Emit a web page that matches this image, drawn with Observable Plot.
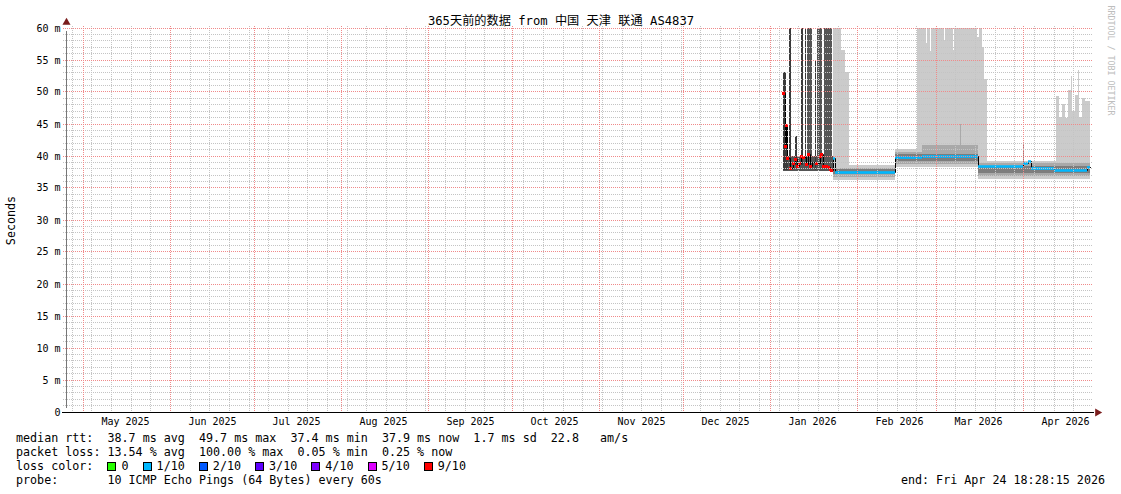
<!DOCTYPE html>
<html><head><meta charset="utf-8">
<script src="https://cdn.jsdelivr.net/npm/d3@7"></script>
<script src="https://cdn.jsdelivr.net/npm/@observablehq/plot@0.6"></script>
<style>
body{margin:0;background:#fff;}
#wrap{position:relative;width:1121px;height:494px;overflow:hidden;background:#fff;font-family:"DejaVu Sans Mono",monospace;}
#chart{position:absolute;left:0;top:0;}
.leg{position:absolute;left:16px;font-size:11.7px;white-space:pre;line-height:14px;color:#000;}
.sw{display:inline-block;width:7px;height:7px;border:1px solid #000;vertical-align:-1px;margin-right:5px;}
</style></head>
<body><div id="wrap"><div id="chart"></div>
<div class="leg" id="l1" style="top:431px"></div>
<div class="leg" id="l2" style="top:445px"></div>
<div class="leg" id="l3" style="top:459px"></div>
<div class="leg" id="l4" style="top:473px"></div>
<div class="leg" id="l5" style="top:473px;left:auto;right:16px"></div>
</div>
<script>
// ---------- texts ----------
const titleText = "365天前的数据 from 中国 天津 联通 AS4837";
const yLabel = "Seconds";
const watermark = "RRDTOOL / TOBI OETIKER";
const T0 = "2025-04-24T18:28:15", T1 = "2026-04-24T18:28:15";
const monthStarts = ["2025-05-01","2025-06-01","2025-07-01","2025-08-01","2025-09-01","2025-10-01","2025-11-01","2025-12-01","2026-01-01","2026-02-01","2026-03-01","2026-04-01"];
const monthLabels = ["May 2025","Jun 2025","Jul 2025","Aug 2025","Sep 2025","Oct 2025","Nov 2025","Dec 2025","Jan 2026","Feb 2026","Mar 2026","Apr 2026"];
const yTicks = [0,5,10,15,20,25,30,35,40,45,50,55,60];

// ---------- legend ----------
const rttStats = ["38.7 ms avg","49.7 ms max","37.4 ms min","37.9 ms now","1.7 ms sd","22.8   am/s"];
const lossStats = ["13.54 % avg","100.00 % max","0.05 % min","0.25 % now"];
const lossLabels = ["0","1/10","2/10","3/10","4/10","5/10","9/10"];
const lossColors = ["#26ff00","#00b8ff","#0059ff","#5e00ff","#7e00ff","#dd00ff","#ff0000"];
const probeText = "10 ICMP Echo Pings (64 Bytes) every 60s";
const endText = "end: Fri Apr 24 18:28:15 2026";

// ---------- smoke (ping spread) [from, to, low ms, high ms] ----------
const smokeOuter = [
  ["2026-01-23T06:00","2026-02-14T08:00",36.2,38.5],
  ["2026-02-14T08:00","2026-03-16T04:00",38.2,41.0],
  ["2026-03-16T04:00","2026-04-24T18:28:15",36.3,39.2]
];
const smokeTall = [
  ["2026-01-23T06:00","2026-01-26T06:00",36.5,60],
  ["2026-01-26T06:00","2026-01-27T18:00",36.5,56.5],
  ["2026-01-27T18:00","2026-01-28T21:00",36.5,53.0],
  ["2026-02-22T06:00","2026-02-25T12:00",38.4,60],
  ["2026-02-25T12:00","2026-02-25T20:00",38.4,57.5],
  ["2026-02-25T20:00","2026-02-27T00:00",38.4,60],
  ["2026-02-27T00:00","2026-02-27T10:00",38.4,56.3],
  ["2026-02-27T10:00","2026-03-04T00:00",38.4,60],
  ["2026-03-04T00:00","2026-03-04T10:00",38.4,58],
  ["2026-03-04T10:00","2026-03-07T00:00",38.4,60],
  ["2026-03-07T00:00","2026-03-07T10:00",38.4,56.5],
  ["2026-03-07T10:00","2026-03-15T20:00",38.4,60],
  ["2026-03-15T20:00","2026-03-16T12:00",38.2,58.5],
  ["2026-03-16T12:00","2026-03-17T12:00",38.2,60],
  ["2026-03-17T12:00","2026-03-18T06:00",38.2,57],
  ["2026-03-18T06:00","2026-03-19T05:00",38.2,52],
  ["2026-04-12T22:00","2026-04-14T00:00",36.5,49.3],
  ["2026-04-14T00:00","2026-04-15T00:00",36.5,46.0],
  ["2026-04-15T00:00","2026-04-16T00:00",36.5,48.0],
  ["2026-04-16T00:00","2026-04-17T00:00",36.5,45.8],
  ["2026-04-17T00:00","2026-04-18T00:00",36.5,50.2],
  ["2026-04-18T00:00","2026-04-18T12:00",36.5,52.4],
  ["2026-04-18T12:00","2026-04-19T12:00",36.5,47.0],
  ["2026-04-19T12:00","2026-04-20T12:00",36.5,49.5],
  ["2026-04-20T12:00","2026-04-21T00:00",36.5,53.4],
  ["2026-04-21T00:00","2026-04-22T00:00",36.5,46.0],
  ["2026-04-22T00:00","2026-04-23T00:00",36.5,49.0],
  ["2026-04-23T00:00","2026-04-24T18:28:15",36.5,48.5]
];
const smokeMid = [
  ["2026-01-23T06:00","2026-02-14T08:00",36.7,38.1],
  ["2026-02-14T08:00","2026-03-16T04:00",38.6,40.6],
  ["2026-02-24T00:00","2026-03-16T04:00",40.0,41.6],
  ["2026-03-09T12:00","2026-03-09T20:00",40.0,45.0],
  ["2026-03-16T04:00","2026-04-24T18:28:15",36.8,38.8]
];
const smokeInner = [
  ["2026-01-23T06:00","2026-02-14T08:00",37.1,37.9],
  ["2026-02-14T08:00","2026-03-16T04:00",39.2,40.3],
  ["2026-03-16T04:00","2026-04-24T18:28:15",37.3,38.4]
];
// high-loss period: darker smoke
const smokeLossDark = [
  ["2026-01-05T13:00","2026-01-06T15:00",37.7,53.0],
  ["2026-01-06T15:00","2026-01-07T04:00",37.8,44.8],
  ["2026-01-07T12:00","2026-01-08T06:00",38.3,60],
  ["2026-01-09T16:00","2026-01-10T09:00",38.5,43.0],
  ["2026-01-10T00:00","2026-01-10T06:00",43.0,60],
  ["2026-01-12T01:00","2026-01-12T18:00",38.5,60],
  ["2026-01-13T05:30","2026-01-13T20:00",38.5,60],
  ["2026-01-16T19:00","2026-01-17T03:30",37.8,54.7]
];
const smokeLossBase = [
  ["2026-01-05T13:00","2026-01-23T06:00",37.6,40.0]
];
const smokeLossMid = [
  ["2026-01-14T04:30","2026-01-15T20:00",37.6,60],
  ["2026-01-17T18:00","2026-01-19T09:30",37.6,60],
  ["2026-01-20T00:00","2026-01-22T20:30",37.6,60]
];
const lossSpike = [["2026-04-01T00:00","2026-04-01T06:00",38.3,42.0]];

// ---------- median rtt [from, ms, loss index (-1 = none)] ----------
const medianSteps = [
  ["2026-01-05T13:00",49.7,6],["2026-01-06T08:00",41.5,6],["2026-01-06T17:00",44.7,6],
  ["2026-01-07T02:00",39.6,6],["2026-01-08T03:00",38.1,6],["2026-01-09T01:00",38.9,6],
  ["2026-01-09T16:00",39.4,6],["2026-01-10T12:00",38.4,6],["2026-01-11T05:00",38.9,6],
  ["2026-01-12T01:00",40.0,6],["2026-01-12T15:00",39.8,6],["2026-01-13T19:00",38.6,6],
  ["2026-01-14T10:00",40.2,6],["2026-01-15T00:00",38.4,6],["2026-01-16T00:00",39.0,-1],
  ["2026-01-17T10:00",38.9,6],["2026-01-18T14:00",40.0,6],["2026-01-19T05:00",40.2,6],
  ["2026-01-19T18:00",38.3,6],["2026-01-20T23:00",38.3,6],["2026-01-21T12:00",38.2,6],
  ["2026-01-22T03:00",37.9,6],["2026-01-22T18:00",37.8,6],
  ["2026-01-23T04:00",39.6,1],["2026-01-24T04:00",37.5,1],["2026-02-01T00:00",37.4,1],
  ["2026-02-06T00:00",37.5,1],["2026-02-14T08:00",39.8,1],["2026-02-24T00:00",39.9,1],
  ["2026-03-05T00:00",40.0,1],["2026-03-12T00:00",39.9,1],["2026-03-16T04:00",38.3,1],
  ["2026-04-01T00:00",38.8,1],["2026-04-03T00:00",39.1,1],["2026-04-03T18:00",38.1,1],
  ["2026-04-12T00:00",37.7,1],["2026-04-24T00:00",38.2,1]
];

// ---------- helpers ----------
const D = s => new Date(s.length <= 10 ? s + "T00:00:00Z" : s + "Z");
const band = (arr, fill) => Plot.rect(arr, {x1: d => D(d[0]), x2: d => D(d[1]), y1: d => d[2], y2: d => d[3], fill});
const segs = medianSteps.map((d, i) => ({x1: D(d[0]), x2: D(i + 1 < medianSteps.length ? medianSteps[i + 1][0] : T1), y: d[1], loss: d[2]}));
const linePts = segs.flatMap(s => [{x: s.x1, y: s.y}, {x: s.x2, y: s.y}]);
const weekly = d3.utcSunday.range(D(T0), D(T1));
const months = monthStarts.map(D);
const yMinor = d3.range(0, 61).filter(v => v % 5 !== 0);
const grey = "#c4c4c4", redGrid = "#f08a8a";

const chart = Plot.plot({
  width: 1121, height: 430,
  marginLeft: 66, marginRight: 31, marginTop: 28, marginBottom: 18,
  x: {type: "utc", domain: [D(T0), D(T1)], range: [65.5, 1089.5], axis: null, round: true},
  y: {domain: [0, 60], range: [411.5, 27.5], round: true},
  style: {fontFamily: "'DejaVu Sans Mono', monospace", fontSize: "10px", background: "#fff", overflow: "visible", color: "#000"},
  marks: [
    band(smokeOuter, "#cbcbcb"),
    band(smokeTall, "#cbcbcb"),
    band(smokeMid, "#a9a9a9"),
    band(smokeInner, "#7d7d7d"),
    band(smokeLossBase, "#555555"),
    band(smokeLossDark, "#3a3a3a"),
    band(smokeLossMid, "#555555"),
    band(lossSpike, "#a07a7a"),
    Plot.line(linePts, {x: "x", y: "y", stroke: "#000", strokeWidth: 1}),
    Plot.ruleY(segs.filter(s => s.loss === 1), {x1: "x1", x2: "x2", y: "y", stroke: lossColors[1], strokeWidth: 2.6}),
    Plot.dot(segs.filter(s => s.loss === 6), {x: "x1", y: "y", symbol: "square", r: 1.7, fill: lossColors[6], stroke: null}),
    // grid (drawn over the data, as rrdtool does)
    Plot.ruleY(yMinor, {stroke: grey, strokeDasharray: "1,1", insetLeft: -3, insetRight: -3}),
    Plot.ruleX(weekly, {stroke: grey, strokeDasharray: "1,1", insetTop: -2}),
    Plot.ruleY(yTicks.filter(v => v > 0), {stroke: redGrid, strokeDasharray: "1,1", insetLeft: -3, insetRight: -3}),
    Plot.ruleX(months, {stroke: redGrid, strokeDasharray: "1,1", insetTop: -2}),
    // axes
    Plot.ruleX([D(T0)], {y1: 0, y2: 60, stroke: "#777", insetTop: -4, insetBottom: -3}),
    Plot.ruleY([0], {stroke: "#000", insetLeft: -4, insetRight: -4}),
    Plot.dot([D(T1)], {x: d => d, y: 0, symbol: "triangle", r: 3, fill: "#7a1c1c", stroke: null, rotate: 90, dx: 7}),
    Plot.dot([D(T0)], {x: d => d, y: 60, symbol: "triangle", r: 3, fill: "#7a1c1c", stroke: null, dy: -6}),
    Plot.axisY(yTicks, {tickSize: 0, tickPadding: 6, fontSize: 10, label: null, tickFormat: d => d === 0 ? "0" : d + " m"}),
    Plot.text(monthLabels, {x: (d, i) => d3.utcDay.offset(months[i], 15), y: 0, dy: 9, fontSize: 10, fill: "#000"}),
    Plot.text([yLabel], {frameAnchor: "left", dx: -55, rotate: -90, textAnchor: "middle", lineAnchor: "middle", fontSize: 11.7, fill: "#000"}),
    Plot.text([titleText], {frameAnchor: "top", dx: -17.5, dy: -7, textAnchor: "middle", lineAnchor: "middle", fontSize: 12.2, fill: "#000", fontFamily: "'DejaVu Sans Mono','Noto Sans CJK SC',monospace"}),
    Plot.text([watermark], {frameAnchor: "top-right", dx: 20, dy: 32, rotate: 90, textAnchor: "middle", lineAnchor: "middle", fontSize: 8.3, fill: "#bdbdbd"})
  ]
});
document.getElementById("chart").appendChild(chart);

// legend lines
document.getElementById("l1").textContent = "median rtt:  " + rttStats.join("  ");
document.getElementById("l2").textContent = "packet loss: " + lossStats.join("  ");
const l3 = document.getElementById("l3");
l3.appendChild(document.createTextNode("loss color:  "));
lossLabels.forEach((lab, i) => {
  const s = document.createElement("span");
  s.className = "sw"; s.style.background = lossColors[i];
  l3.appendChild(s);
  l3.appendChild(document.createTextNode(lab + "  "));
});
document.getElementById("l4").textContent = "probe:       " + probeText;
document.getElementById("l5").textContent = endText;
</script>
</body></html>
